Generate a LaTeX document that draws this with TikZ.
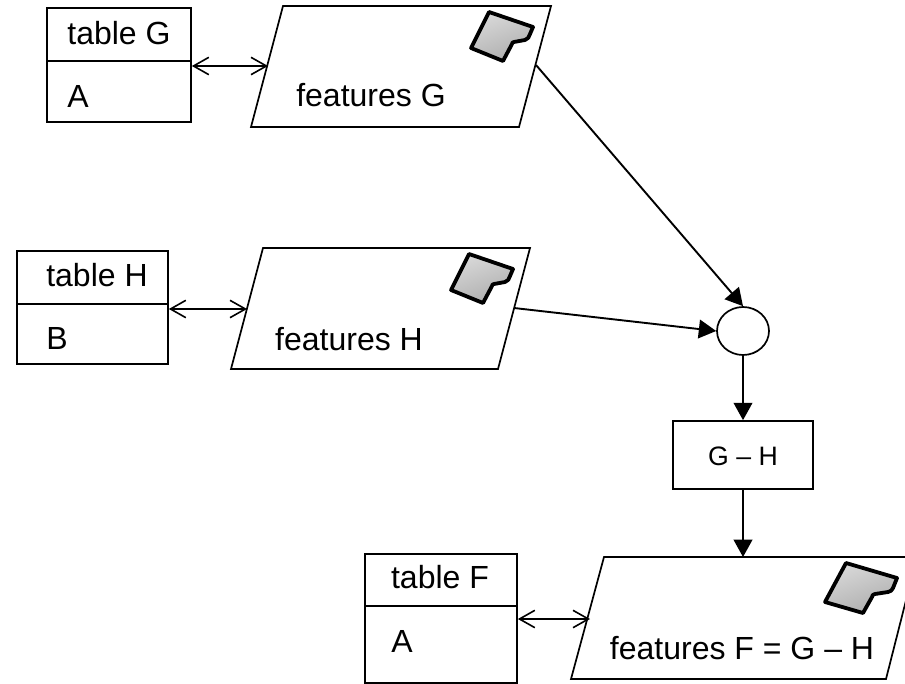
\documentclass[tikz,border=0pt]{standalone}
\usepackage{fontspec}
\setmainfont{Liberation Sans}
\usetikzlibrary{arrows.meta,shapes.geometric}
\tikzset{
  box/.style={draw,line width=1.7*0.75pt,minimum width=#1,inner sep=0pt,rectangle},
  para/.style={draw,line width=1.7*0.75pt,fill=white,line join=miter},
  lab/.style={font=\fontsize{24}{28}\selectfont,inner sep=0pt,anchor=center},
  solid arrow/.style={line width=1.9*0.75pt,-{Triangle[length=13pt,width=14pt]}},
  thin double/.style={line width=1.6*0.75pt,{Straight Barb[length=11.5pt,width=13pt]}-{Straight Barb[length=11.5pt,width=13pt]}},
  icon/.style={draw,line width=3.8*0.75pt,line join=round,top color=black!15,bottom color=black!32,shading angle=20},
}
\newcommand{\boxat}[5]{\node[box=#4*0.75pt,minimum height=#5*0.75pt] (#1) at (#2,#3) {};}
\begin{document}
\begin{tikzpicture}[x=0.75pt,y=-0.75pt]
\useasboundingbox (0,0) rectangle (905,684);
\clip (0,0) rectangle (905,684);
% tables
\boxat{gt}{119}{34.5}{144}{53}
\boxat{gb}{119}{91.5}{144}{61}
\boxat{ht}{92.5}{277.5}{151}{53}
\boxat{hb}{92.5}{334}{151}{60}
\boxat{ft}{441}{580}{152}{52}
\boxat{fb}{441}{644.5}{152}{77}
\node[lab] (tg) at (119,33) {table G};
\node[lab] (a1) at (78,96) {A};
\node[lab] (th) at (97,275) {table H};
\node[lab] (b1) at (57,338) {B};
\node[lab] (tf) at (440,577) {table F};
\node[lab] (a2) at (402,641) {A};
% parallelograms
\draw[para] (283,6) -- (551,6) -- (519,127) -- (251,127) -- cycle;
\draw[para] (263,248) -- (530,248) -- (498,369) -- (231,369) -- cycle;
\draw[para] (604,557) -- (917,557) -- (886,679) -- (571,679) -- cycle;
\node[lab] (fg) at (371,95) {features G};
\node[lab] (fh) at (349,339) {features H};
\node[lab] (ff) at (742,648) {features F = G – H};
% icons
\path[icon] (489,12) -- (533,27) -- (530,34) to[out=-110,in=10] (525,40) -- (514,42) to[out=-170,in=110] (512,44) -- (503,61) -- (471,48) -- cycle;
\path[icon] (469,254) -- (513,269) -- (510,276) to[out=-110,in=10] (505,282) -- (494,284) to[out=-170,in=110] (492,286) -- (483,303) -- (451,290) -- cycle;
\path[icon] (846,563) -- (897,578) -- (893,588) to[out=-110,in=10] (888,592) -- (875,594) to[out=-170,in=110] (872,597) -- (863,613) -- (825,602) -- cycle;
% operator
\node[draw,ellipse,line width=1.7*0.75pt,minimum width=52*0.75pt,minimum height=48*0.75pt,inner sep=0pt] (op) at (743,331) {};
\node[box=140*0.75pt,minimum height=68*0.75pt] (diff) at (743,455) {};
\node[font=\fontsize{20}{24}\selectfont,inner sep=0pt] (dl) at (743,456) {G – H};
% connector ends
\coordinate (gout) at (536,65);
\coordinate (hout) at (514,308);
\coordinate (fin) at (743,557);
\coordinate (gin) at (268,66);
\coordinate (hin) at (247,309);
\coordinate (fi) at (590,619);
\draw[solid arrow] (gout) -- (op.north);
\draw[solid arrow] (hout) -- (op.west);
\draw[solid arrow] (op.south) -- (diff.north);
\draw[solid arrow] (diff.south) -- (fin);
\draw[thin double] (gin -| gb.east) -- (gin);
\draw[thin double] (hin -| hb.east) -- (hin);
\draw[thin double] (fi -| fb.east) -- (fi);
\end{tikzpicture}
\end{document}
